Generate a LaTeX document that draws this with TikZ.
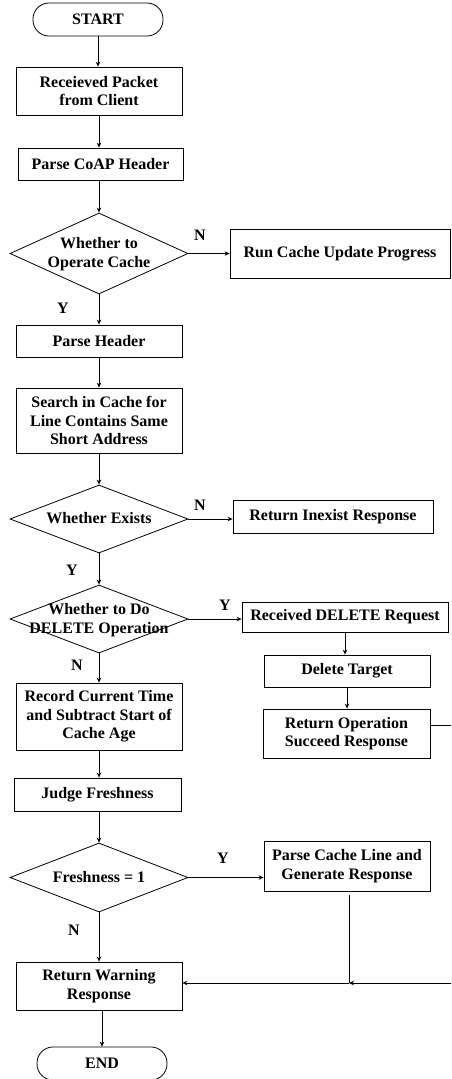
\documentclass[tikz,border=0pt]{standalone}
\usepackage{fontspec}
\setmainfont{Liberation Serif}
\usetikzlibrary{shapes.geometric,arrows.meta}
\begin{document}
\begin{tikzpicture}[x=1pt,y=-1pt,
  every node/.style={font=\fontsize{16}{18.5}\selectfont\bfseries},
  box/.style={draw,line width=0.8pt,rectangle,inner sep=0pt,align=center},
  term/.style={draw,line width=0.8pt,rectangle,rounded corners=16pt,inner sep=0pt,minimum width=130pt,minimum height=33pt},
  dia/.style={draw,line width=0.8pt,diamond,inner sep=0pt,minimum width=178pt},
  lbl/.style={inner sep=0pt},
  arr/.style={line width=0.8pt,-{Stealth[length=5pt,width=4.5pt]}},
  ln/.style={line width=0.8pt}]
\useasboundingbox (0,0) rectangle (451,1079);
\clip (0,0) rectangle (451,1079);
% main column
\node[term] (start) at (98,19.5) {START};
\node[box,minimum width=166pt,minimum height=48pt] (recv) at (99,91) {Receieved Packet\\from Client};
\node[box,minimum width=165pt,minimum height=32pt] (coap) at (100.5,164) {Parse CoAP Header};
\node[dia,minimum height=81pt] (d1) at (99,253.5) {};
\node[lbl,align=center] at (99,254) {Whether to\\Operate Cache};
\node[box,minimum width=220pt,minimum height=49pt] (run) at (340,253.5) {Run Cache Update Progress};
\node[box,minimum width=166pt,minimum height=32pt] (ph) at (99,341) {Parse Header};
\node[box,minimum width=166pt,minimum height=65pt] (search) at (99,420.5) {Search in Cache for\\Line Contains Same\\Short Address};
\node[dia,minimum height=68pt] (d2) at (99,519) {};
\node[lbl] at (99,518) {Whether Exists};
\node[box,minimum width=200pt,minimum height=33pt] (inex) at (333,516.5) {Return Inexist Response};
\node[dia,minimum height=68pt] (d3) at (99,619) {};
\node[lbl,align=center] at (99,620) {Whether to Do\\DELETE Operation};
\node[box,minimum width=206pt,minimum height=30pt] (rdel) at (345,617) {Received DELETE Request};
\node[box,minimum width=166pt,minimum height=32pt] (dt) at (347,671) {Delete Target};
\node[box,minimum width=167pt,minimum height=49pt] (succ) at (346.5,733.5) {Return Operation\\Succeed Response};
\node[box,minimum width=166pt,minimum height=67pt] (rec) at (99,716.5) {Record Current Time\\and Subtract Start of\\Cache Age};
\node[box,minimum width=167pt,minimum height=33pt] (judge) at (97.5,794.5) {Judge Freshness};
\node[dia,minimum height=69pt] (d4) at (99,877.5) {};
\node[lbl] at (99,877) {Freshness = 1};
\node[box,minimum width=166pt,minimum height=50pt] (pc) at (347,866) {Parse Cache Line and\\Generate Response};
\node[box,minimum width=166pt,minimum height=48pt] (rw) at (99,986) {Return Warning\\Response};
\node[term] (end) at (102,1063.5) {END};
% branch labels
\node[lbl] at (200,235) {N};
\node[lbl] at (63,308) {Y};
\node[lbl] at (200,505) {N};
\node[lbl] at (72,570) {Y};
\node[lbl] at (225,605) {Y};
\node[lbl] at (77,665) {N};
\node[lbl] at (223,858) {Y};
\node[lbl] at (74,930) {N};
% connectors
\draw[arr] (start.south) -- (start.south |- recv.north);
\draw[arr] (recv.south) -- (recv.south |- coap.north);
\draw[arr] (recv.south |- coap.south) -- (d1.north);
\draw[arr] (d1.east) -- (d1.east -| run.west);
\draw[arr] (d1.south) -- (d1.south |- ph.north);
\draw[arr] (ph.south) -- (ph.south |- search.north);
\draw[arr] (search.south) -- (d2.north);
\draw[arr] (d2.east) -- (d2.east -| inex.west);
\draw[arr] (d2.south) -- (d3.north);
\draw[arr] (d3.east) -- (d3.east -| rdel.west);
\draw[arr] (rdel.south) -- (rdel.south |- dt.north);
\draw[arr] (dt.south) -- (dt.south |- succ.north);
\draw[arr] (d3.south) -- (d3.south |- rec.north);
\draw[arr] (rec.south) -- (rec.south |- judge.north);
\draw[arr] (rec.south |- judge.south) -- (d4.north);
\draw[arr] (d4.east) -- (d4.east -| pc.west);
\draw[arr] (d4.south) -- (d4.south |- rw.north);
\draw[arr] (rw.south -| end.north) -- (end.north);
% return paths
\coordinate (pcb) at (349,895);
\coordinate (j) at (349,983);
\coordinate (far) at (480,983);
\draw[ln] ([yshift=8pt]succ.east) -- ++(60,0) |- (far);
\draw[ln] (pcb) -- (j);
\draw[arr] (far) -- (j);
\draw[arr] (j) -- (j -| rw.east);
\end{tikzpicture}
\end{document}
